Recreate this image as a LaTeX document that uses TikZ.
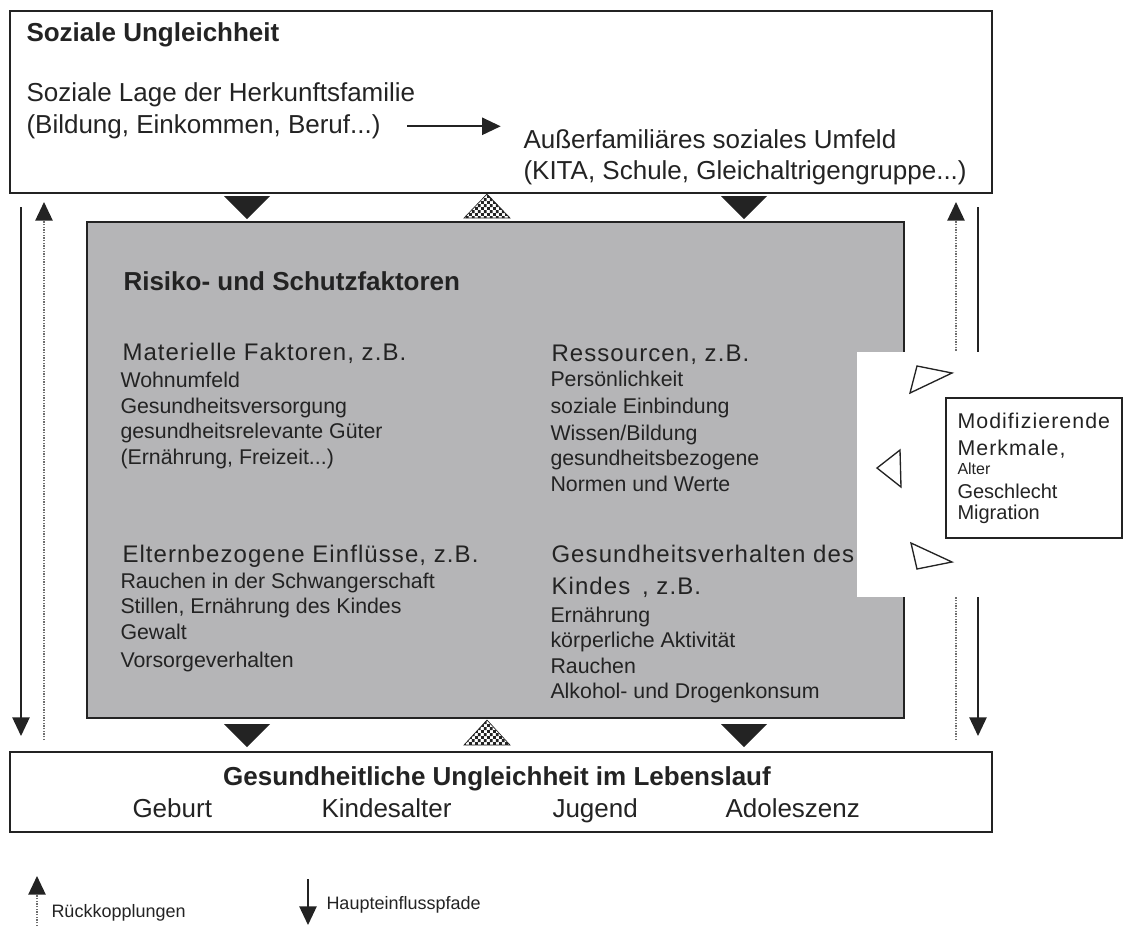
\documentclass[tikz,border=0pt]{standalone}
\usepackage{fontspec}
\setmainfont{Liberation Sans}
\newfontfamily\spacedfont[LetterSpace=4.5]{Liberation Sans}
\newfontfamily\widefont[LetterSpace=5]{Liberation Sans}
\usetikzlibrary{arrows.meta,patterns}

\definecolor{boxgray}{RGB}{181,181,183}
\definecolor{inkgray}{RGB}{35,35,35}
\definecolor{dotgray}{RGB}{110,110,110}

\pgfdeclarepatternformonly{finechecker}{\pgfqpoint{0pt}{0pt}}{\pgfqpoint{4.4pt}{4.4pt}}{\pgfqpoint{4.4pt}{4.4pt}}{%
  \pgfpathrectangle{\pgfqpoint{0pt}{0pt}}{\pgfqpoint{2.2pt}{2.2pt}}%
  \pgfpathrectangle{\pgfqpoint{2.2pt}{2.2pt}}{\pgfqpoint{2.2pt}{2.2pt}}%
  \pgfusepath{fill}}

\tikzset{every picture/.style={line width=0.75pt}}
\tikzset{
  txt/.style={anchor=base west, inner sep=0.75pt, text=inkgray},
  bigtxt/.style={txt, font=\fontsize{19.5}{23}\selectfont},
  headtxt/.style={txt, font=\bfseries\fontsize{19.5}{23}\selectfont},
  subtxt/.style={txt, font=\spacedfont\fontsize{18}{21}\selectfont},
  itemtxt/.style={txt, font=\fontsize{16}{19}\selectfont},
  modtxt/.style={txt, font=\widefont\fontsize{16}{19}\selectfont},
  legtxt/.style={txt, font=\fontsize{13.5}{16}\selectfont},
  boxline/.style={draw=inkgray, line width=1.5pt},
  mainpath/.style={draw=inkgray, line width=1.1pt, -{Triangle[length=14pt,width=13pt]}},
  feedpath/.style={draw=dotgray, line width=1.1pt, dash pattern=on 1pt off 1pt, -{Triangle[length=14pt,width=13pt,color=inkgray]}},
  modtri/.style={draw=inkgray, line width=1pt, line join=miter, fill=white},
  checktri/.style={pattern=finechecker, pattern color=inkgray, draw=inkgray, line width=0.5pt},
}

\begin{document}
\begin{tikzpicture}[x=0.75pt,y=0.75pt,yscale=-1,xscale=1]
	\useasboundingbox (0,0) rectangle (1135,926);
	%Shape: Rectangle (soziale Ungleichheit)
	\draw [boxline, fill=white] (10,11) rectangle (992,193) ;
	%Shape: Rectangle (Risiko- und Schutzfaktoren)
	\draw [boxline, fill=boxgray] (87,222) rectangle (904,718) ;
	%Shape: Rectangle (gesundheitliche Ungleichheit)
	\draw [boxline, fill=white] (10,752) rectangle (992,832) ;

	%Triangles top
	\fill [inkgray] (224,196) -- (270,196) -- (247,219) -- cycle ;
	\fill [inkgray] (721,196) -- (767,196) -- (744,219) -- cycle ;
	\draw [checktri] (464,218) -- (510,218) -- (487,194) -- cycle ;
	%Triangles bottom
	\fill [inkgray] (224,724) -- (270,724) -- (247,747) -- cycle ;
	\fill [inkgray] (721,724) -- (767,724) -- (744,747) -- cycle ;
	\draw [checktri] (464,745) -- (510,745) -- (487,720) -- cycle ;

	%Side paths
	\coordinate (lmainA) at (21,207) ;
	\coordinate (lmainB) at (21,736) ;
	\coordinate (lfeedA) at (44,740) ;
	\coordinate (lfeedB) at (44,202) ;
	\coordinate (rfeedA) at (956,740) ;
	\coordinate (rfeedB) at (956,202) ;
	\coordinate (rmainA) at (978,207) ;
	\coordinate (rmainB) at (978,736) ;
	\draw [mainpath] (lmainA) -- (lmainB) ;
	\draw [feedpath] (lfeedA) -- (lfeedB) ;
	\draw [feedpath] (rfeedA) -- (rfeedB) ;
	\draw [mainpath] (rmainA) -- (rmainB) ;

	%Text top box
	\node [headtxt] (sozung) at (25,41) {Soziale Ungleichheit};
	\node [bigtxt] (lage) at (25,101) {Soziale Lage der Herkunftsfamilie};
	\node [bigtxt] (beruf) at (25,133) {(Bildung, Einkommen, Beruf...)};
	\node [bigtxt] (umfeld) at (522,148) {Außerfamiliäres soziales Umfeld};
	\node [bigtxt] (kita) at (522,179) {(KITA, Schule, Gleichaltrigengruppe...)};
	\draw [mainpath, line width=1.3pt, shorten <=19pt, shorten >=16pt] (beruf.east) -- (beruf.east -| umfeld.west) ;

	%Text gray box
	\node [headtxt] (risiko) at (122,290) {Risiko- und Schutzfaktoren};
	\node [subtxt] (mat) at (121,360) {Materielle Faktoren, z.B.};
	\node [itemtxt] (mat1) at (119,387) {Wohnumfeld};
	\node [itemtxt] (mat2) at (119,413) {Gesundheitsversorgung};
	\node [itemtxt] (mat3) at (119,438) {gesundheitsrelevante Güter};
	\node [itemtxt] (mat4) at (119,464) {(Ernährung, Freizeit...)};
	\node [subtxt] (res) at (550,361) {Ressourcen, z.B.};
	\node [itemtxt] (res1) at (549,386) {Persönlichkeit};
	\node [itemtxt] (res2) at (549,413) {soziale Einbindung};
	\node [itemtxt] (res3) at (549,440) {Wissen/Bildung};
	\node [itemtxt] (res4) at (549,465) {gesundheitsbezogene};
	\node [itemtxt] (res5) at (549,491) {Normen und Werte};
	\node [subtxt] (elt) at (121,562) {Elternbezogene Einflüsse, z.B.};
	\node [itemtxt] (elt1) at (119,588) {Rauchen in der Schwangerschaft};
	\node [itemtxt] (elt2) at (119,613) {Stillen, Ernährung des Kindes};
	\node [itemtxt] (elt3) at (119,639) {Gewalt};
	\node [itemtxt] (elt4) at (119,667) {Vorsorgeverhalten};
	\node [subtxt] (ver) at (550,562) {Gesundheitsverhalten des};
	\node [subtxt] (verb) at (550,594) {Kindes\, , z.B.};
	\node [itemtxt] (ver1) at (549,622) {Ernährung};
	\node [itemtxt] (ver2) at (549,647) {körperliche Aktivität};
	\node [itemtxt] (ver3) at (549,673) {Rauchen};
	\node [itemtxt] (ver4) at (549,698) {Alkohol- und Drogenkonsum};

	%Shape: white cut-out
	\fill [white] (857,352) rectangle (1000,597) ;
	%Modifying triangles
	\draw [modtri] (910,393) -- (917,366) -- (952,373) -- cycle ;
	\draw [modtri] (877,468) -- (900,450) -- (901,487) -- cycle ;
	\draw [modtri] (911,543) -- (917,569) -- (952,562) -- cycle ;
	%Shape: Rectangle (modifizierende Merkmale)
	\draw [draw=inkgray, line width=1.2pt, fill=white] (946,398) rectangle (1122,538) ;
	\node [modtxt] (modi) at (956,428) {Modifizierende};
	\node [modtxt] (merk) at (956,455) {Merkmale,};
	\node [txt, font=\fontsize{12}{14}\selectfont] (alter) at (956,474) {Alter};
	\node [txt, font=\fontsize{15}{18}\selectfont] (geschl) at (956,498) {Geschlecht};
	\node [txt, font=\fontsize{15}{18}\selectfont] (migr) at (956,519) {Migration};

	%Text bottom box
	\node [headtxt, anchor=base] (gesung) at (497,785) {Gesundheitliche Ungleichheit im Lebenslauf};
	\node [bigtxt] (geburt) at (131,817) {Geburt};
	\node [bigtxt] (kindalt) at (320,817) {Kindesalter};
	\node [bigtxt] (jugend) at (551,817) {Jugend};
	\node [bigtxt] (adol) at (724,817) {Adoleszenz};

	%Legend
	\coordinate (legfA) at (37,926) ;
	\coordinate (legfB) at (37,876) ;
	\coordinate (legmA) at (308,879) ;
	\coordinate (legmB) at (308,925) ;
	\draw [feedpath] (legfA) -- (legfB) ;
	\draw [mainpath] (legmA) -- (legmB) ;
	\node [legtxt] (rueck) at (50,917) {Rückkopplungen};
	\node [legtxt] (haupt) at (325,909) {Haupteinflusspfade};
\end{tikzpicture}
\end{document}
